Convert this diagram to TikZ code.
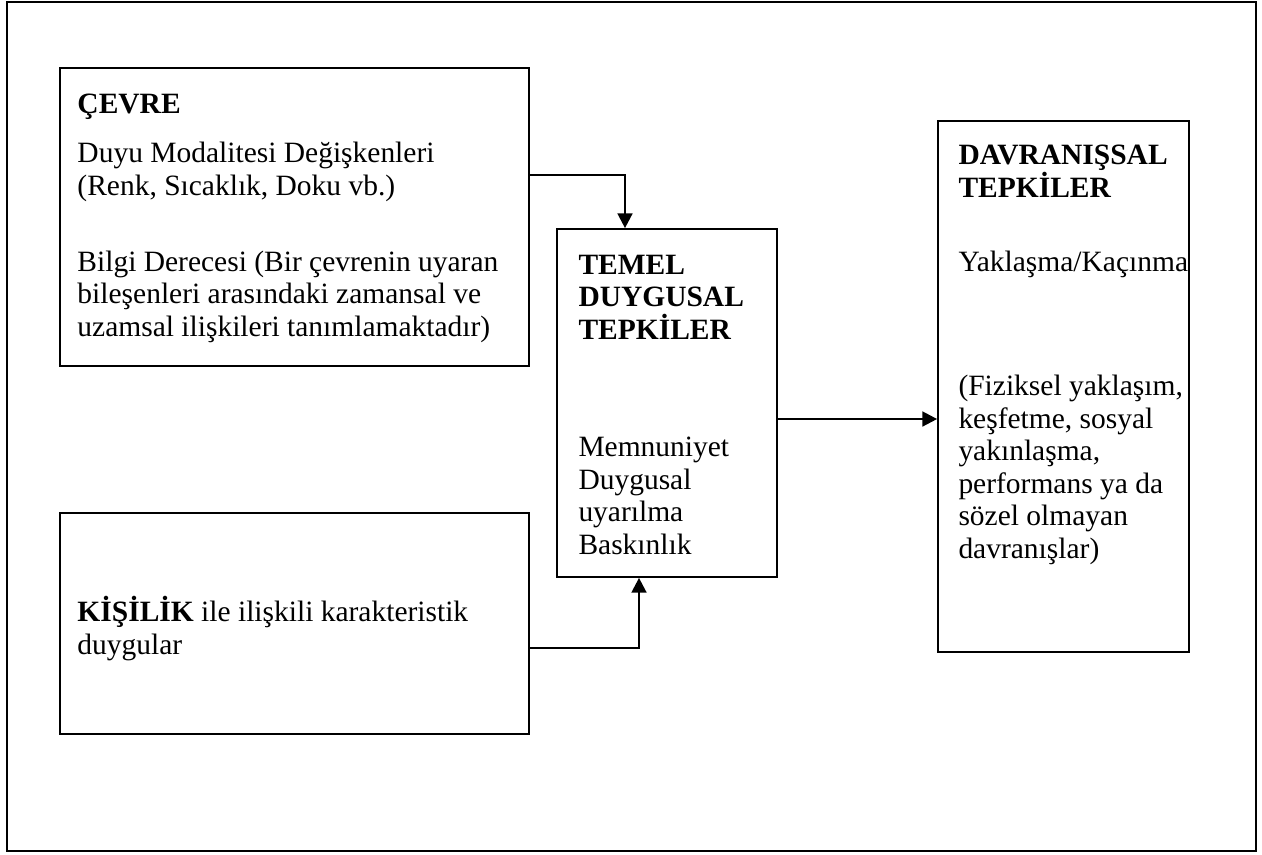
\documentclass[tikz,border=0pt]{standalone}
\usepackage{fontspec}
\setmainfont{Liberation Serif}
\usetikzlibrary{arrows.meta,fit,calc}
\begin{document}
\begin{tikzpicture}[x=0.407pt,y=-0.407pt,
  box/.style={draw, line width=0.7pt, inner sep=0pt},
  txt/.style={anchor=base west, inner sep=0pt, align=left, font=\fontsize{12}{13.2}\selectfont},
  conn/.style={line width=1pt},
  arr/.style={conn, -{Triangle[length=6pt,width=6pt]}}]
\useasboundingbox (0,0) rectangle (1262,854);
\node[box, fit={(7,2)(1256,851)}] (frame) {};
\node[box, fit={(60,68)(529,366)}] (cevre) {};
\node[box, fit={(60,513)(529,734)}] (kisilik) {};
\node[box, fit={(557,229)(777,577)}] (temel) {};
\node[box, fit={(938,121)(1189,652)}] (davr) {};
% texts (multi-line nodes are placed by the baseline of their last line)
\node[txt] (cevreT) at (77,113) {\textbf{ÇEVRE}};
\node[txt] (cevre1) at (77,195) {Duyu Modalitesi Değişkenleri\\(Renk, Sıcaklık, Doku vb.)};
\node[txt] (cevre2) at (77,336) {Bilgi Derecesi (Bir çevrenin uyaran\\bileşenleri arasındaki zamansal ve\\uzamsal ilişkileri tanımlamaktadır)};
\node[txt] (temelT) at (578,339) {\textbf{TEMEL}\\\textbf{DUYGUSAL}\\\textbf{TEPKİLER}};
\node[txt] (temel1) at (578,554) {Memnuniyet\\Duygusal\\uyarılma\\Baskınlık};
\node[txt] (davrT) at (958,197) {\textbf{DAVRANIŞSAL}\\\textbf{TEPKİLER}};
\node[txt] (davr1) at (958,271) {Yaklaşma/Kaçınma};
\node[txt] (davr2) at (958,558) {(Fiziksel yaklaşım,\\keşfetme, sosyal\\yakınlaşma,\\performans ya da\\sözel olmayan\\davranışlar)};
\node[txt] (kisilikT) at (77,654) {\textbf{KİŞİLİK} ile ilişkili karakteristik\\duygular};
% connectors
\coordinate (c1) at (529,120);
\coordinate (c2) at (529,175);
\coordinate (c3) at (625,175);
\draw[arr] (c1) -- (c2) -- (c3) -- (c3 |- temel.north);
\coordinate (k1) at (529,717);
\coordinate (k2) at (529,648);
\coordinate (k3) at (639,648);
\draw[arr] (k1) -- (k2) -- (k3) -- (k3 |- temel.south);
\coordinate (m1) at (777,419);
\draw[arr] (m1) -- (m1 -| davr.west);
\end{tikzpicture}
\end{document}
